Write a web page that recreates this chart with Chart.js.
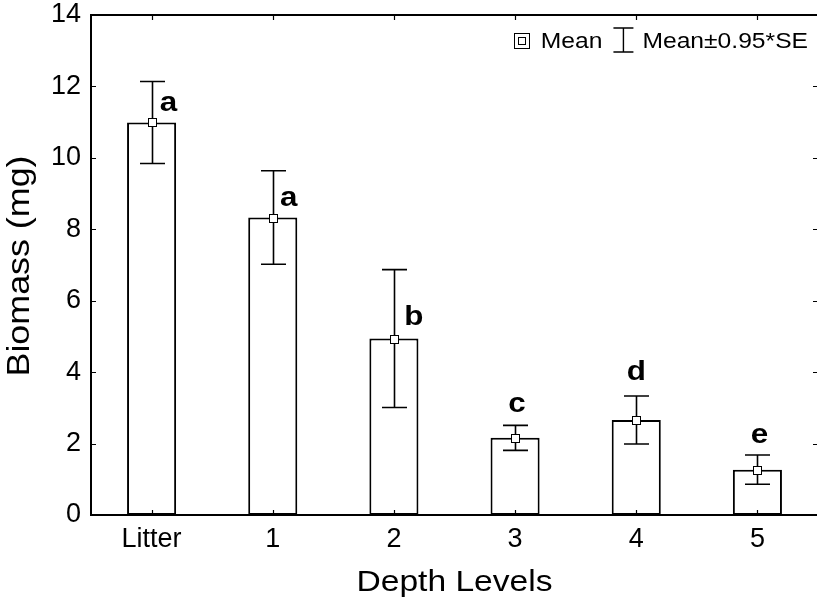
<!DOCTYPE html>
<html>
<head>
<meta charset="utf-8">
<script src="https://cdn.jsdelivr.net/npm/chart.js@4/dist/chart.umd.min.js"></script>
<style>
  html, body { margin: 0; padding: 0; background: #fff; overflow: hidden; }
  #wrap { width: 820px; height: 603px; }
</style>
</head>
<body>
<div id="wrap"><canvas id="biomassChart" width="820" height="603"></canvas></div>
<script>
const depthLevels = ['Litter', '1', '2', '3', '4', '5'];
const meanBiomass = [10.99, 8.33, 4.94, 2.16, 2.66, 1.27];
const seRange = [1.15, 1.31, 1.93, 0.35, 0.67, 0.41]; // 0.95*SE half-width
const groupLetters = ['a', 'a', 'b', 'c', 'd', 'e'];
// where each letter sits: height in mg, sideways shift in px from the bar centre
const letterAt = [11.54, 8.88, 5.54, 3.11, 4.0, 2.24];
const letterShift = [17, 16, 20, 2, 0, 2];

const FONT = '"Liberation Sans", Arial, Helvetica, sans-serif';
const WIDEN = 1.12; // text here runs a little wider than plain Arial
Chart.defaults.font.family = FONT;
Chart.defaults.color = '#000';

// fillText, stretched along the writing direction
function wideText(ctx, text, x, y, align) {
    const w = ctx.measureText(text).width * WIDEN;
    let left = x;
    if (align === 'center') left = x - w / 2;
    else if (align === 'right') left = x - w;
    ctx.save();
    ctx.translate(left, y);
    ctx.scale(WIDEN, 1);
    ctx.textAlign = 'left';
    ctx.fillText(text, 0, 0);
    ctx.restore();
    return w;
}

// frame, inward ticks, whiskers, mean markers, letters, legend and axis titles
const decorations = {
    id: 'decorations',
    afterDraw(chart) {
        const ctx = chart.ctx;
        const area = chart.chartArea;
        const xs = chart.scales.x;
        const ys = chart.scales.y;
        ctx.save();
        ctx.strokeStyle = '#000';
        ctx.fillStyle = '#000';

        // box round the plot
        ctx.lineWidth = 2;
        ctx.strokeRect(area.left, area.top, area.right - area.left, area.bottom - area.top);

        // ticks pointing into the plot
        ctx.lineWidth = 1.2;
        ctx.beginPath();
        ys.ticks.forEach(t => {
            const py = Math.round(ys.getPixelForValue(t.value)) + 0.5;
            ctx.moveTo(area.left, py); ctx.lineTo(area.left + 5, py);
            ctx.moveTo(area.right, py); ctx.lineTo(area.right - 5, py);
        });
        depthLevels.forEach((d, i) => {
            const px = Math.round(xs.getPixelForValue(i)) + 0.5;
            ctx.moveTo(px, area.bottom); ctx.lineTo(px, area.bottom - 5);
            ctx.moveTo(px, area.top); ctx.lineTo(px, area.top + 5);
        });
        ctx.stroke();

        // whiskers
        ctx.lineWidth = 1.6;
        meanBiomass.forEach((m, i) => {
            const px = Math.round(xs.getPixelForValue(i)) + 0.5;
            const hi = ys.getPixelForValue(m + seRange[i]);
            const lo = ys.getPixelForValue(m - seRange[i]);
            ctx.beginPath();
            ctx.moveTo(px, hi); ctx.lineTo(px, lo);
            ctx.moveTo(px - 12.5, hi); ctx.lineTo(px + 12.5, hi);
            ctx.moveTo(px - 12.5, lo); ctx.lineTo(px + 12.5, lo);
            ctx.stroke();
        });

        // mean markers
        ctx.lineWidth = 1;
        meanBiomass.forEach((m, i) => {
            const px = Math.round(xs.getPixelForValue(i));
            const py = Math.round(ys.getPixelForValue(m));
            ctx.fillStyle = '#fff';
            ctx.fillRect(px - 4, py - 4, 9, 9);
            ctx.strokeRect(px - 3.5, py - 3.5, 8, 8);
        });

        // group letters
        ctx.fillStyle = '#000';
        ctx.font = 'bold 28px ' + FONT;
        ctx.textBaseline = 'middle';
        groupLetters.forEach((g, i) => {
            wideText(ctx, g, xs.getPixelForValue(i) + letterShift[i], ys.getPixelForValue(letterAt[i]), 'center');
        });

        // legend, laid out from the right edge
        ctx.font = '22px ' + FONT;
        ctx.textBaseline = 'alphabetic';
        const legY = area.top + 25;
        const seText = 'Mean\u00b10.95*SE';
        const seW = wideText(ctx, seText, area.right - 10, area.top + 33, 'right');
        const barX = area.right - 10 - seW - 19;
        ctx.lineWidth = 1.4;
        ctx.beginPath();
        ctx.moveTo(barX, legY - 12); ctx.lineTo(barX, legY + 12);
        ctx.moveTo(barX - 10, legY - 12); ctx.lineTo(barX + 10, legY - 12);
        ctx.moveTo(barX - 10, legY + 12); ctx.lineTo(barX + 10, legY + 12);
        ctx.stroke();
        const meanW = wideText(ctx, 'Mean', barX - 21, area.top + 33, 'right');
        const meanX = barX - 21 - meanW;
        ctx.lineWidth = 1;
        ctx.strokeRect(Math.round(meanX - 27) + 0.5, Math.round(legY - 7) + 0.5, 15, 15);
        ctx.strokeRect(Math.round(meanX - 23) + 0.5, Math.round(legY - 3) + 0.5, 7, 7);

        // axis titles
        ctx.font = '30px ' + FONT;
        wideText(ctx, 'Depth Levels', (area.left + area.right) / 2, area.bottom + 76, 'center');
        ctx.save();
        ctx.translate(29, (area.top + area.bottom) / 2 + 1);
        ctx.rotate(-Math.PI / 2);
        ctx.font = '32px ' + FONT;
        wideText(ctx, 'Biomass (mg)', 0, 0, 'center');
        ctx.restore();

        ctx.restore();
    }
};

new Chart(document.getElementById('biomassChart'), {
    type: 'bar',
    data: {
        labels: depthLevels,
        datasets: [{
            label: 'Mean',
            data: meanBiomass,
            backgroundColor: '#fff',
            borderColor: '#000',
            borderWidth: 2,
            borderSkipped: false,
            barPercentage: 0.405,
            categoryPercentage: 1
        }]
    },
    options: {
        responsive: false,
        animation: false,
        layout: { padding: { top: 15, right: 2, left: 0, bottom: 0 } },
        plugins: {
            legend: { display: false },
            tooltip: { enabled: false }
        },
        scales: {
            x: {
                offset: true,
                grid: { display: false, drawTicks: false },
                border: { display: false },
                ticks: { font: { size: 27 }, color: '#000', padding: 8, maxRotation: 0 },
                afterFit(scale) {
                    scale.height = 88;
                    scale.paddingLeft = 0;
                    scale.paddingRight = 0;
                }
            },
            y: {
                min: 0,
                max: 14,
                grid: { display: false, drawTicks: false },
                border: { display: false },
                ticks: { stepSize: 2, font: { size: 27 }, color: '#000', padding: 10 },
                afterFit(scale) {
                    scale.width = 91;
                    scale.paddingTop = 0;
                    scale.paddingBottom = 0;
                }
            }
        }
    },
    plugins: [decorations]
});
</script>
</body>
</html>
